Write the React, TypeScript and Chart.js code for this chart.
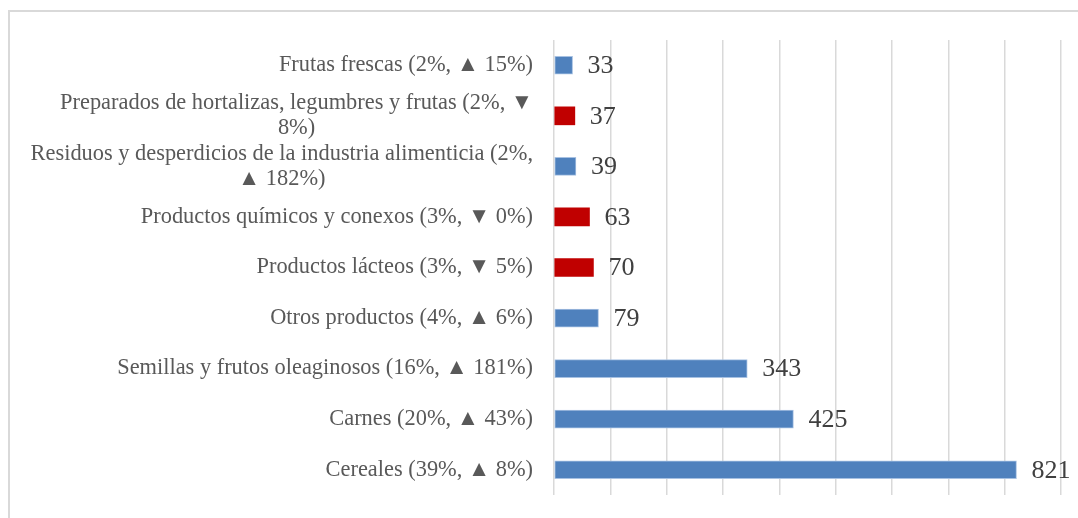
import React, { useEffect, useRef } from "react";
import { Chart, registerables } from "chart.js";

Chart.register(...registerables);

const categoryLines: string[][] = [
  ["Frutas frescas (2%, ▲ 15%)"],
  ["Preparados de hortalizas, legumbres y frutas (2%, ▼", "8%)"],
  ["Residuos y desperdicios de la industria alimenticia (2%,", "▲ 182%)"],
  ["Productos químicos y conexos (3%, ▼ 0%)"],
  ["Productos lácteos (3%, ▼ 5%)"],
  ["Otros productos (4%, ▲ 6%)"],
  ["Semillas y frutos oleaginosos (16%, ▲ 181%)"],
  ["Carnes (20%, ▲ 43%)"],
  ["Cereales (39%, ▲ 8%)"],
];
const values: number[] = [33, 37, 39, 63, 70, 79, 343, 425, 821];
const trendUp: boolean[] = [true, false, true, false, false, true, true, true, true];

const UP_COLOR = "#4F81BD";
const DOWN_COLOR = "#C00000";
const CAT_FONT = "22.4px 'Liberation Serif', serif";
const VAL_FONT = "26px 'Liberation Serif', serif";

const labelPlugin = {
  id: "customLabels",
  afterDraw(chart: any) {
    const ctx = chart.ctx;
    const xs = chart.scales.x;
    const ys = chart.scales.y;
    const area = chart.chartArea;
    ctx.save();
    ctx.font = CAT_FONT;
    ctx.fillStyle = "#595959";
    ctx.textBaseline = "middle";
    ctx.textAlign = "center";
    const rightX = area.left - 21;
    const lh = 25;
    categoryLines.forEach((lines, i) => {
      const yc = ys.getPixelForValue(i);
      const blockW = Math.max(...lines.map((l) => ctx.measureText(l).width));
      const cx = rightX - blockW / 2;
      const y0 = yc - ((lines.length - 1) * lh) / 2;
      lines.forEach((l, k) => ctx.fillText(l, cx, y0 + k * lh));
    });
    ctx.font = VAL_FONT;
    ctx.fillStyle = "#404040";
    ctx.textAlign = "left";
    values.forEach((v, i) => {
      const x = xs.getPixelForValue(v) + 15;
      const y = ys.getPixelForValue(i) + 1;
      ctx.fillText(String(v), x, y);
    });
    ctx.restore();
  },
};

export default function App() {
  const ref = useRef<HTMLCanvasElement | null>(null);
  useEffect(() => {
    if (!ref.current) return;
    const chart = new Chart(ref.current, {
      type: "bar",
      data: {
        labels: categoryLines.map((l) => l.join(" ")),
        datasets: [
          {
            data: values,
            backgroundColor: trendUp.map((u) => (u ? UP_COLOR : DOWN_COLOR)),
            borderColor: trendUp.map((u) => (u ? "#A7C1E2" : DOWN_COLOR)),
            borderWidth: trendUp.map((u) => (u ? 1 : 0)),
            borderSkipped: false,
            barThickness: 18,
          },
        ],
      },
      options: {
        indexAxis: "y",
        animation: false,
        responsive: false,
        maintainAspectRatio: false,
        layout: { padding: { left: 554, right: 17, top: 40, bottom: 23 } },
        plugins: { legend: { display: false }, tooltip: { enabled: false } },
        scales: {
          x: {
            min: 0,
            max: 900,
            ticks: { display: false, stepSize: 100 },
            grid: { color: "#d9d9d9", lineWidth: 1.5, drawTicks: false },
            border: { display: false },
            afterFit: (s: any) => {
              s.height = 0;
            },
          },
          y: {
            ticks: { display: false },
            grid: { display: false, drawTicks: false },
            border: { display: false },
            afterFit: (s: any) => {
              s.width = 0;
            },
          },
        },
      },
      plugins: [labelPlugin],
    });
    return () => chart.destroy();
  }, []);
  return (
    <>
      <div
        style={{
          position: "fixed",
          left: 8,
          top: 10,
          right: -20,
          bottom: -20,
          borderTop: "2px solid #d9d9d9",
          borderLeft: "2px solid #d9d9d9",
          background: "#fff",
        }}
      />
      <canvas
        ref={ref}
        width={1078}
        height={518}
        style={{ position: "fixed", left: 0, top: 0, width: 1078, height: 518 }}
      />
    </>
  );
}
